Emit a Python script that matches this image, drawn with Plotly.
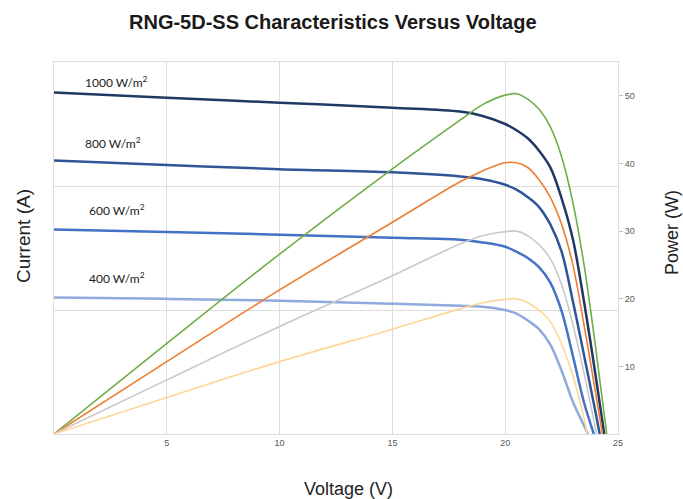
import plotly.graph_objects as go

# Voltage sample points (V)
v_common = [0, 5, 10, 15, 18, 19, 20, 20.5, 21, 21.5, 22, 22.5, 23, 23.5]

# Current (A)
v_i1000 = v_common + [24, 24.39]
i1000 = [2.754, 2.712, 2.672, 2.631, 2.60, 2.565, 2.50, 2.45, 2.385, 2.285, 2.15, 1.90, 1.57, 1.06, 0.48, 0]
v_i800 = v_common + [24, 24.19]
i800 = [2.205, 2.17, 2.135, 2.11, 2.077, 2.055, 2.01, 1.97, 1.91, 1.83, 1.69, 1.47, 1.07, 0.63, 0.18, 0]
v_i600 = v_common + [23.93]
i600 = [1.65, 1.63, 1.607, 1.583, 1.567, 1.545, 1.51, 1.47, 1.42, 1.345, 1.22, 0.99, 0.63, 0.25, 0]
v_i400 = v_common + [23.67]
i400 = [1.10, 1.09, 1.075, 1.05, 1.035, 1.027, 1.0, 0.97, 0.915, 0.845, 0.72, 0.51, 0.26, 0.065, 0]

# Power (W)
v_p1000 = v_common + [24, 24.5]
p1000 = [0, 13.4, 26.6, 39.2, 46.4, 48.7, 50.1, 50.3, 49.5, 48.0, 45.4, 41.0, 34.2, 24.9, 13.0, 0]
v_p800 = v_common + [24, 24.31]
p800 = [0, 10.7, 21.3, 31.3, 37.3, 38.9, 40.1, 40.1, 39.4, 37.6, 35.0, 31.0, 25.0, 16.0, 6.2, 0]
v_p600 = v_common + [24.05]
p600 = [0, 8.0, 15.9, 23.4, 28.1, 29.3, 29.9, 30.0, 29.3, 28.0, 25.9, 22.1, 16.2, 8.9, 0]
v_p400 = v_common + [23.63]
p400 = [0, 5.4, 10.7, 15.5, 18.5, 19.4, 19.9, 20.0, 19.4, 18.3, 16.6, 13.3, 8.6, 2.2, 0]

irr_labels = ["1000 W/m<sup>2</sup>", "800 W/m<sup>2</sup>", "600 W/m<sup>2</sup>", "400 W/m<sup>2</sup>"]
x_ticks = [5, 10, 15, 20, 25]
p_ticks = [10, 20, 30, 40, 50]

fig = go.Figure()

cur_series = [(v_i1000, i1000, "#1F3864"), (v_i800, i800, "#2F5597"),
              (v_i600, i600, "#4472C4"), (v_i400, i400, "#8FAADC")]
for (vx, iy, c), name in zip(cur_series, irr_labels):
    fig.add_trace(go.Scatter(x=vx, y=iy, mode="lines", name=name,
                             line=dict(color=c, width=2.5, shape="spline", smoothing=1.0),
                             yaxis="y"))

pow_series = [(v_p1000, p1000, "#70AD47"), (v_p800, p800, "#ED7D31"),
              (v_p600, p600, "#C9C9C9"), (v_p400, p400, "#FFD697")]
for (vx, py, c), name in zip(pow_series, irr_labels):
    fig.add_trace(go.Scatter(x=vx, y=py, mode="lines", name=name + " P",
                             line=dict(color=c, width=1.6, shape="spline", smoothing=1.0),
                             yaxis="y2"))

grid = "#DEDEDE"
fig.update_layout(
    width=683, height=499,
    margin=dict(l=54, r=65, t=62, b=65),
    paper_bgcolor="white", plot_bgcolor="white",
    showlegend=False,
    font=dict(family="Liberation Sans, Arial, sans-serif", color="#222222"),
    xaxis=dict(range=[0, 25], tickvals=x_ticks, showgrid=True, gridcolor=grid, gridwidth=1,
               zeroline=False, showline=True, linecolor=grid, linewidth=1, mirror=True,
               ticks="", tickfont=dict(size=9, color="#595959")),
    yaxis=dict(range=[0, 3], dtick=1, showticklabels=False, showgrid=True, gridcolor=grid,
               zeroline=False, showline=True, linecolor=grid, linewidth=1, mirror=True, ticks=""),
    yaxis2=dict(range=[0, 55], tickvals=p_ticks, overlaying="y", side="right", showgrid=False,
                zeroline=False, showline=False, ticks="outside", ticklen=4, tickcolor="#BFBFBF",
                tickfont=dict(size=9, color="#595959")),
)

# Title and axis titles
fig.add_annotation(text="<b>RNG-5D-SS Characteristics Versus Voltage</b>", xref="paper", yref="paper",
                   x=(333 - 54) / 564, y=(434 - 22) / 372, showarrow=False, xanchor="center", yanchor="middle",
                   font=dict(size=20, color="#1A1A1A", family="Liberation Sans, Arial, sans-serif"))
fig.add_annotation(text="Current (A)", xref="paper", yref="paper", x=(23 - 54) / 564, y=(434 - 236) / 372,
                   textangle=-90, showarrow=False, xanchor="center", yanchor="middle",
                   font=dict(size=19, color="#222222"))
fig.add_annotation(text="Power (W)", xref="paper", yref="paper", x=(672 - 54) / 564, y=(434 - 233) / 372,
                   textangle=-90, showarrow=False, xanchor="center", yanchor="middle",
                   font=dict(size=18, color="#222222"))
fig.add_annotation(text="Voltage (V)", xref="paper", yref="paper", x=(348 - 54) / 564, y=(434 - 489) / 372,
                   showarrow=False, xanchor="center", yanchor="middle",
                   font=dict(size=18, color="#222222"))

# Irradiance labels
label_pos = [(2.77, 2.84), (2.6, 2.35), (2.8, 1.81), (2.8, 1.26)]
for txt, (lx, ly) in zip(irr_labels, label_pos):
    fig.add_annotation(text=txt, x=lx, y=ly, xref="x", yref="y", showarrow=False,
                       font=dict(size=12, color="#222222", family="Lato, sans-serif"))

fig.write_html("out.html", config={"displayModeBar": False},
               post_script="document.body.style.margin='0px';document.body.style.overflow='hidden';")
